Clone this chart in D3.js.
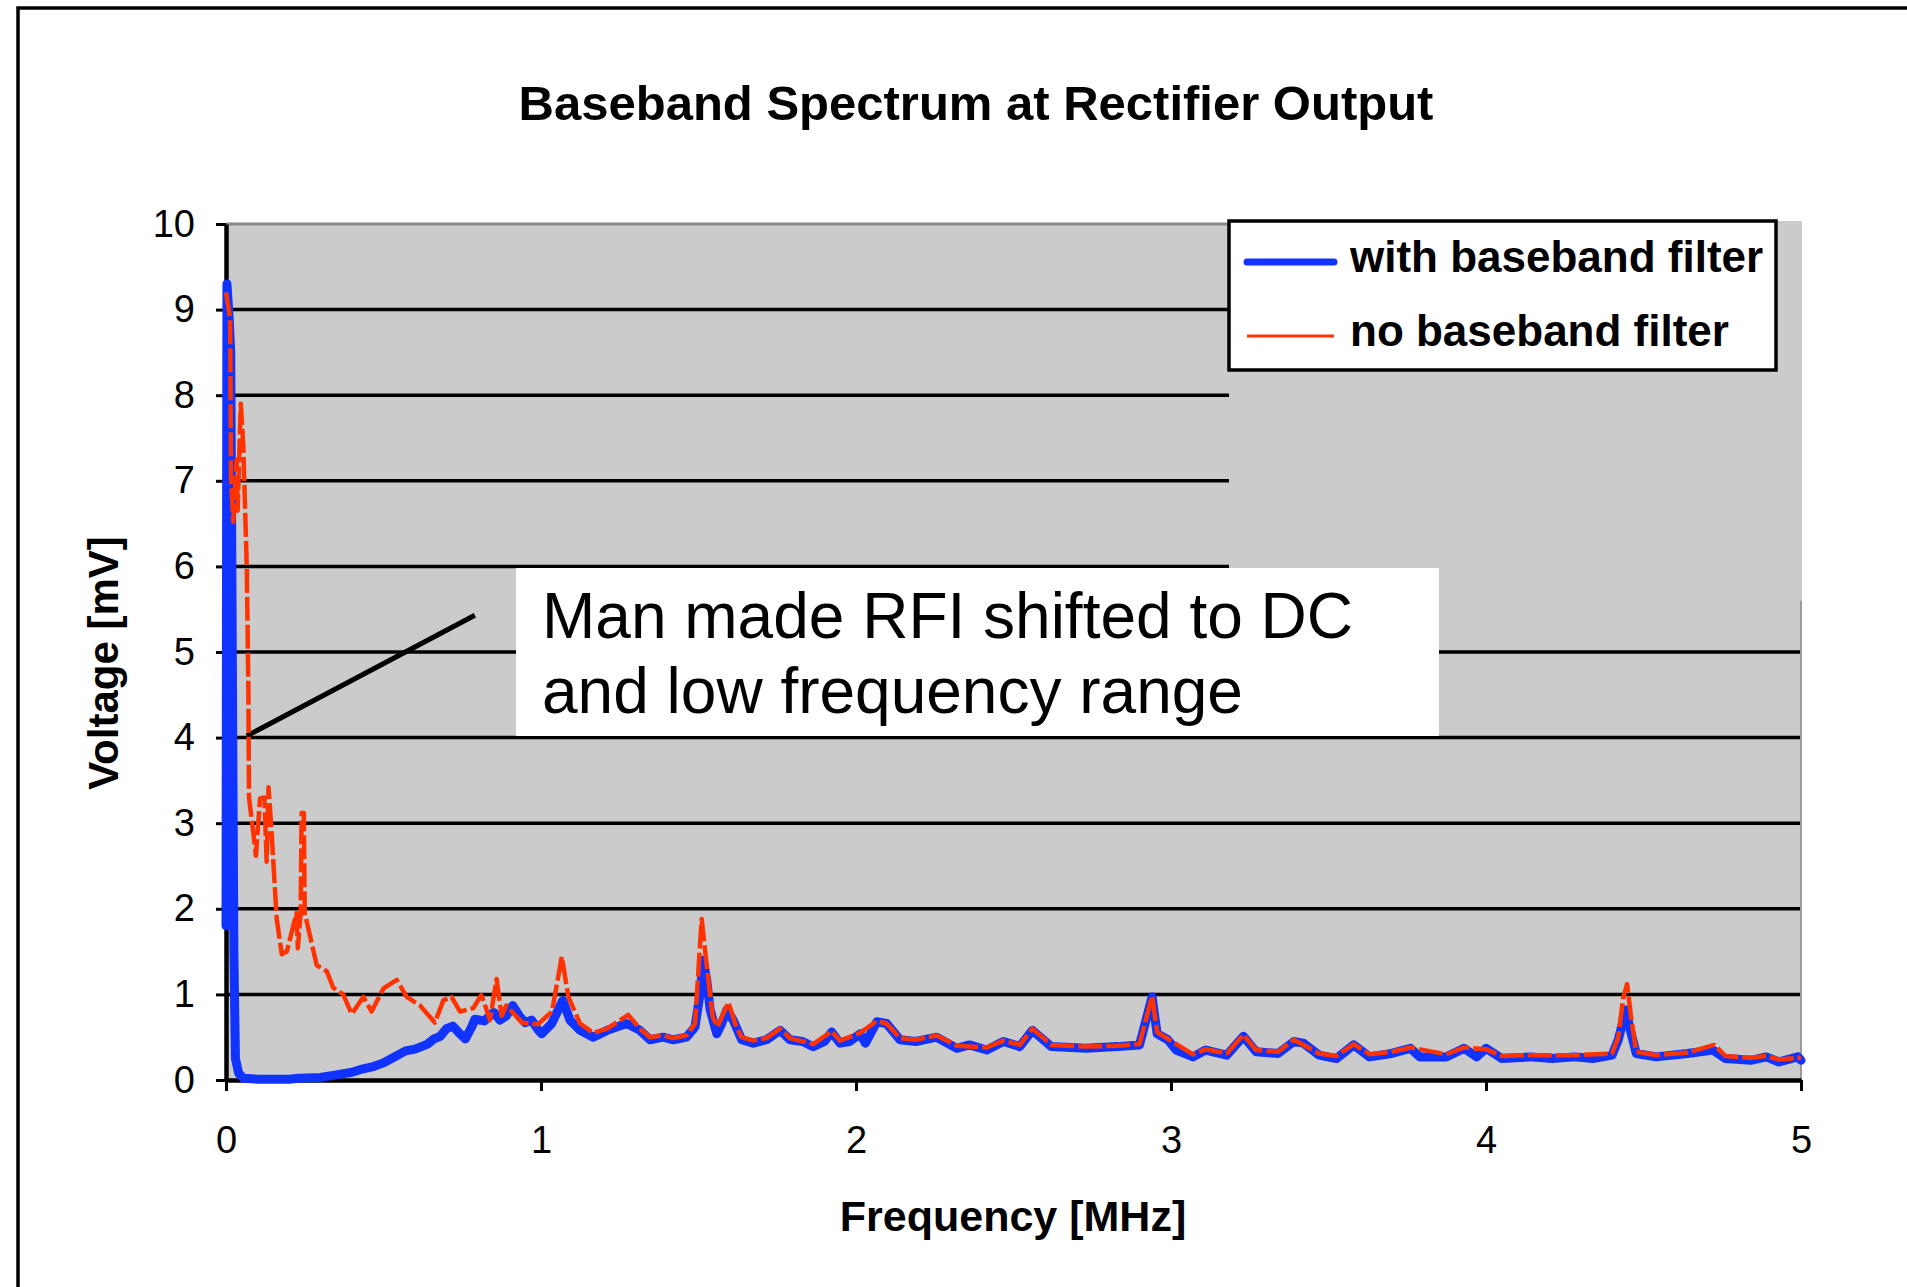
<!DOCTYPE html>
<html>
<head>
<meta charset="utf-8">
<script src="https://cdn.jsdelivr.net/npm/d3@7"></script>
<style>
  body { margin: 0; background: #fff; }
  svg text { font-family: "Liberation Sans", Arial, sans-serif; fill: #000; }
</style>
</head>
<body>
<div id="chart"></div>
<script>
// Spectrum: frequency in MHz, voltage in mV
const blueFreq = [0, 0.003, 0.010, 0.015, 0.020, 0.025, 0.030, 0.040, 0.055, 0.10, 0.20, 0.23, 0.30, 0.35, 0.40, 0.425,
  0.47, 0.50, 0.53, 0.57, 0.60, 0.64, 0.66, 0.68, 0.70, 0.72, 0.74, 0.76, 0.78, 0.79, 0.82, 0.85, 0.87, 0.89, 0.91,
  0.933, 0.95, 0.97, 0.99, 1.002, 1.034, 1.069, 1.092, 1.124, 1.166, 1.21, 1.24, 1.272, 1.314, 1.346, 1.388, 1.42,
  1.462, 1.489, 1.505, 1.515, 1.526, 1.537, 1.558, 1.574, 1.59, 1.61, 1.637, 1.674, 1.716, 1.759, 1.79, 1.83, 1.864,
  1.90, 1.923, 1.949, 1.98, 2.013, 2.03, 2.066, 2.097, 2.14, 2.19, 2.256, 2.32, 2.36, 2.415, 2.468, 2.52, 2.56, 2.62,
  2.73, 2.83, 2.90, 2.94, 2.956, 2.99, 3.016, 3.07, 3.11, 3.177, 3.23, 3.27, 3.34, 3.39, 3.42, 3.47, 3.525, 3.58,
  3.63, 3.70, 3.76, 3.79, 3.874, 3.93, 3.97, 4.0, 4.05, 4.14, 4.21, 4.28, 4.34, 4.40, 4.42, 4.444, 4.457, 4.477,
  4.54, 4.64, 4.72, 4.76, 4.84, 4.89, 4.93, 4.99, 5.0];
const blueVolt = [1.8, 9.3, 8.9, 8.5, 5.0, 1.5, 0.25, 0.08, 0.02, 0.01, 0.01, 0.02, 0.03, 0.06, 0.09, 0.12,
  0.16, 0.20, 0.26, 0.34, 0.36, 0.42, 0.48, 0.51, 0.60, 0.63, 0.55, 0.48, 0.62, 0.71, 0.69, 0.79, 0.70, 0.75, 0.87,
  0.74, 0.67, 0.70, 0.59, 0.54, 0.66, 0.93, 0.70, 0.58, 0.50, 0.58, 0.62, 0.66, 0.58, 0.47, 0.50, 0.47,
  0.50, 0.62, 1.01, 1.40, 1.17, 0.82, 0.54, 0.66, 0.82, 0.70, 0.47, 0.43, 0.47, 0.58, 0.47, 0.45, 0.39,
  0.45, 0.56, 0.43, 0.45, 0.54, 0.43, 0.68, 0.66, 0.47, 0.45, 0.50, 0.37, 0.41, 0.35, 0.45, 0.39, 0.58, 0.39,
  0.37, 0.39, 0.41, 0.97, 0.54, 0.47, 0.35, 0.27, 0.35, 0.29, 0.51, 0.33, 0.31, 0.45, 0.43, 0.29, 0.25, 0.41,
  0.27, 0.31, 0.37, 0.27, 0.27, 0.37, 0.27, 0.37, 0.25, 0.27, 0.25, 0.27, 0.25, 0.29, 0.47, 0.82, 0.60, 0.31,
  0.27, 0.31, 0.35, 0.25, 0.23, 0.27, 0.21, 0.27, 0.23];

const redFreq = [0, 0.013, 0.016, 0.023, 0.034, 0.037, 0.047, 0.055, 0.066, 0.071, 0.073, 0.087, 0.095, 0.108,
  0.122, 0.129, 0.135, 0.145, 0.161, 0.177, 0.193, 0.224, 0.228, 0.237, 0.24, 0.247, 0.25, 0.267, 0.288, 0.32,
  0.34, 0.372, 0.399, 0.436, 0.462, 0.50, 0.542, 0.574, 0.616, 0.663, 0.69, 0.716, 0.743, 0.785, 0.81, 0.817,
  0.838, 0.859, 0.875, 0.89, 0.94, 0.99, 1.035, 1.066, 1.087, 1.124, 1.166, 1.21, 1.277, 1.314, 1.346, 1.388,
  1.42, 1.462, 1.489, 1.51, 1.53, 1.545, 1.56, 1.595, 1.62, 1.637, 1.674, 1.716, 1.759, 1.79, 1.864, 1.923,
  1.949, 2.013, 2.066, 2.097, 2.14, 2.19, 2.256, 2.32, 2.415, 2.468, 2.52, 2.56, 2.62, 2.73, 2.83, 2.90, 2.94,
  2.956, 2.99, 3.07, 3.11, 3.177, 3.23, 3.27, 3.34, 3.39, 3.47, 3.525, 3.58, 3.63, 3.70, 3.76, 3.874, 3.93,
  4.0, 4.05, 4.14, 4.28, 4.40, 4.42, 4.435, 4.448, 4.46, 4.477, 4.54, 4.64, 4.725, 4.76, 4.84, 4.89, 4.93, 5.0];
const redVolt = [9.2, 8.9, 7.05, 6.52, 7.25, 6.65, 7.9, 7.4, 5.98, 4.57, 3.3, 2.88, 2.62, 3.29,
  3.3, 2.55, 3.42, 2.88, 1.88, 1.47, 1.5, 1.95, 1.54, 1.95, 3.12, 3.12, 1.95, 1.68, 1.34, 1.27,
  1.08, 1.0, 0.77, 0.97, 0.8, 1.07, 1.17, 0.97, 0.87, 0.67, 0.93, 0.97, 0.8, 0.84, 0.99, 0.93,
  0.7, 1.18, 0.75, 0.87, 0.67, 0.65, 0.80, 1.44, 0.97, 0.66, 0.55, 0.60, 0.76, 0.60, 0.50, 0.52,
  0.49, 0.52, 0.66, 1.88, 1.21, 0.74, 0.62, 0.91, 0.62, 0.50, 0.46, 0.49, 0.60, 0.49, 0.42, 0.57,
  0.46, 0.55, 0.69, 0.66, 0.49, 0.47, 0.52, 0.40, 0.38, 0.46, 0.41, 0.60, 0.41, 0.39, 0.40, 0.42, 0.98,
  0.56, 0.48, 0.30, 0.36, 0.31, 0.53, 0.35, 0.33, 0.47, 0.31, 0.28, 0.42, 0.30, 0.33, 0.38, 0.30, 0.38,
  0.36, 0.28, 0.29, 0.29, 0.31, 0.50, 0.95, 1.12, 0.75, 0.33, 0.29, 0.32, 0.41, 0.28, 0.26, 0.28, 0.24, 0.26];

const xTicks = [0, 1, 2, 3, 4, 5];
const yTicks = [0, 1, 2, 3, 4, 5, 6, 7, 8, 9, 10];
const gridValues = [1, 2, 3, 4, 5, 6, 7, 8, 9];
const seriesNames = ['with baseband filter', 'no baseband filter'];
const seriesColors = ['#1133ff', '#ff3300'];
const chartTitle = 'Baseband Spectrum at Rectifier Output';
const xTitle = 'Frequency [MHz]';
const yTitle = 'Voltage [mV]';
const noteLines = ['Man made RFI shifted to DC', 'and low frequency range'];

class SpectrumChart {
  constructor(_config) {
    this.config = {
      parentElement: _config.parentElement,
      containerWidth: _config.containerWidth || 1907,
      containerHeight: _config.containerHeight || 1287,
      margin: _config.margin || {top: 224, right: 106, bottom: 207, left: 226}
    };
    this.initVis();
  }

  initVis() {
    let vis = this;
    vis.width = vis.config.containerWidth - vis.config.margin.left - vis.config.margin.right;
    vis.height = vis.config.containerHeight - vis.config.margin.top - vis.config.margin.bottom;

    vis.xScale = d3.scaleLinear().domain([0, 5]).range([0, vis.width]);
    vis.yScale = d3.scaleLinear().domain([0, 10]).range([vis.height, 0]);

    vis.svg = d3.select(vis.config.parentElement).append('svg')
        .attr('width', vis.config.containerWidth)
        .attr('height', vis.config.containerHeight);

    // outer slide frame (runs off the right and bottom edges)
    vis.svg.append('rect')
        .attr('x', 18).attr('y', 8)
        .attr('width', 2000).attr('height', 2000)
        .attr('fill', '#fff').attr('stroke', '#000').attr('stroke-width', 3.5);

    vis.svg.append('text')
        .attr('x', 976).attr('y', 120)
        .attr('text-anchor', 'middle')
        .attr('font-size', 49).attr('font-weight', 'bold')
        .text(chartTitle);

    vis.chart = vis.svg.append('g')
        .attr('transform', `translate(${vis.config.margin.left},${vis.config.margin.top})`);
  }

  renderVis() {
    let vis = this;
    const x = vis.xScale, y = vis.yScale;

    vis.chart.append('rect')
        .attr('width', vis.width).attr('height', vis.height)
        .attr('fill', '#cbcbcb');

    // top border of the plot area
    vis.chart.append('line')
        .attr('x1', 0).attr('x2', vis.width).attr('y1', 0).attr('y2', 0)
        .attr('stroke', '#8a8a8a').attr('stroke-width', 3);

    vis.chart.selectAll('.grid')
        .data(gridValues)
        .join('line')
        .attr('class', 'grid')
        .attr('x1', 0).attr('x2', vis.width)
        .attr('y1', d => y(d)).attr('y2', d => y(d))
        .attr('stroke', '#000').attr('stroke-width', 3.5);

    // pasted-over patch behind the legend hides the upper grid lines
    const patchLeft = 1003;
    vis.chart.append('rect')
        .attr('x', patchLeft).attr('y', -3)
        .attr('width', vis.width - patchLeft + 1).attr('height', y(5.6) + 3)
        .attr('fill', '#cbcbcb');
    vis.chart.append('line')
        .attr('x1', vis.width).attr('x2', vis.width)
        .attr('y1', y(5.6)).attr('y2', vis.height)
        .attr('stroke', '#9a9a9a').attr('stroke-width', 2);

    // axes
    vis.yAxis = d3.axisLeft(y).tickValues(yTicks).tickSize(10).tickPadding(21)
        .tickSizeOuter(0).tickFormat(d3.format('d'));
    vis.xAxis = d3.axisBottom(x).tickValues(xTicks).tickSize(11).tickPadding(35)
        .tickSizeOuter(0).tickFormat(d3.format('d'));

    vis.yAxisG = vis.chart.append('g').call(vis.yAxis);
    vis.xAxisG = vis.chart.append('g').attr('transform', `translate(0,${vis.height})`).call(vis.xAxis);

    [vis.xAxisG, vis.yAxisG].forEach(g => {
      g.select('.domain').attr('stroke', '#000').attr('stroke-width', 4.5);
      g.selectAll('.tick line').attr('stroke', '#000').attr('stroke-width', 3);
      g.selectAll('.tick text').attr('font-size', 38).attr('fill', '#000')
          .style('font-family', '"Liberation Sans", Arial, sans-serif');
    });

    vis.svg.append('text')
        .attr('x', 1013).attr('y', 1231)
        .attr('text-anchor', 'middle')
        .attr('font-size', 43).attr('font-weight', 'bold')
        .text(xTitle);

    vis.svg.append('text')
        .attr('transform', 'translate(118,663) rotate(-90)')
        .attr('text-anchor', 'middle')
        .attr('font-size', 42).attr('font-weight', 'bold')
        .text(yTitle);

    // annotation box and pointer
    vis.chart.append('rect')
        .attr('x', 516 - vis.config.margin.left).attr('y', 568 - vis.config.margin.top)
        .attr('width', 923).attr('height', 168)
        .attr('fill', '#fff');
    vis.chart.selectAll('.note')
        .data(noteLines)
        .join('text')
        .attr('class', 'note')
        .attr('x', 542 - vis.config.margin.left)
        .attr('y', (d, i) => 638 - vis.config.margin.top + i * 75)
        .attr('font-size', 64)
        .text(d => d);
    vis.chart.append('line')
        .attr('x1', x(0.066)).attr('y1', y(4.02))
        .attr('x2', x(0.79)).attr('y2', y(5.43))
        .attr('stroke', '#000').attr('stroke-width', 5);

    // series
    const line = d3.line().x(d => x(d[0])).y(d => y(d[1]));
    const blueData = d3.zip(blueFreq, blueVolt);
    const redData = d3.zip(redFreq, redVolt);

    vis.chart.append('path')
        .datum(blueData)
        .attr('d', line)
        .attr('fill', 'none')
        .attr('stroke', seriesColors[0]).attr('stroke-width', 9)
        .attr('stroke-linejoin', 'round').attr('stroke-linecap', 'round');

    vis.chart.append('path')
        .datum(redData)
        .attr('d', line)
        .attr('fill', 'none')
        .attr('stroke', seriesColors[1]).attr('stroke-width', 4.5)
        .attr('stroke-dasharray', '24 4')
        .attr('stroke-linejoin', 'round');

    // legend
    const legend = vis.svg.append('g').attr('transform', 'translate(1229,221)');
    legend.append('rect')
        .attr('width', 547).attr('height', 149)
        .attr('fill', '#fff').attr('stroke', '#000').attr('stroke-width', 3.5);
    const rows = legend.selectAll('.legend-row')
        .data(seriesNames)
        .join('g')
        .attr('class', 'legend-row')
        .attr('transform', (d, i) => `translate(0,${41 + i * 74})`);
    rows.append('line')
        .attr('x1', 18).attr('x2', 105)
        .attr('stroke', (d, i) => seriesColors[i])
        .attr('stroke-width', (d, i) => i === 0 ? 7 : 3)
        .attr('stroke-linecap', (d, i) => i === 0 ? 'round' : 'butt');
    rows.append('text')
        .attr('x', 121).attr('y', 10)
        .attr('font-size', 44).attr('font-weight', 'bold')
        .text(d => d);
  }
}

const chart = new SpectrumChart({parentElement: '#chart'});
chart.renderVis();
</script>
</body>
</html>
